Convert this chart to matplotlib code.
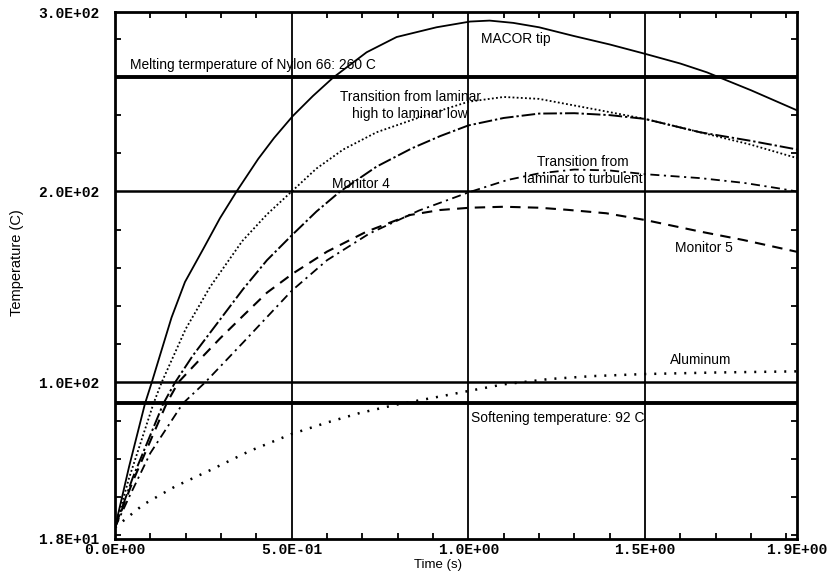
import matplotlib
matplotlib.use("Agg")
import matplotlib.pyplot as plt
from matplotlib.ticker import FixedLocator

# ---------------- data ----------------
macor_x = [0, 0.04, 0.085, 0.104, 0.127, 0.16, 0.198, 0.25, 0.297, 0.344, 0.405, 0.45, 0.503, 0.56, 0.617,
           0.712, 0.797, 0.91, 1.005, 1.06, 1.127, 1.2, 1.297, 1.4, 1.502, 1.6, 1.675, 1.8, 1.93]
macor_y = [24, 56, 89, 100, 114, 134, 152.6, 170, 186, 200, 217, 228, 239.5, 250, 259.6,
           272.9, 280.9, 286, 289, 289.5, 288.3, 286, 281.5, 277, 272, 267, 262.4, 253, 242.5]

lamhl_x = [0, 0.04, 0.109, 0.132, 0.2, 0.269, 0.36, 0.43, 0.5, 0.57, 0.646, 0.74, 0.88, 1.0, 1.1, 1.2,
           1.373, 1.5, 1.656, 1.8, 1.93]
lamhl_y = [24, 50, 89, 100, 128, 150, 174, 188, 200, 212, 222, 231, 240, 247, 249.5, 248.5,
           242.5, 238, 231, 224.5, 217.5]

mon4_x = [0, 0.05, 0.137, 0.17, 0.22, 0.269, 0.363, 0.43, 0.5, 0.57, 0.637, 0.74, 0.84, 0.92, 1.0, 1.1,
          1.2, 1.3, 1.4, 1.5, 1.656, 1.8, 1.93]
mon4_y = [24, 50, 89, 100, 114, 126, 149, 164, 177, 189.5, 200, 213, 222.6, 229, 234.6, 238.5,
          240.8, 241, 240, 238, 231, 226.5, 222]

mon5_x = [0, 0.05, 0.146, 0.179, 0.24, 0.297, 0.363, 0.43, 0.503, 0.6, 0.712, 0.835, 0.92, 1.005, 1.1,
          1.2, 1.28, 1.39, 1.502, 1.656, 1.778, 1.93]
mon5_y = [24, 48, 89, 100, 112, 123, 135, 147, 157, 168.5, 179, 187.7, 190.3, 191.5, 192,
          191.5, 190.4, 188.6, 185, 179, 174.6, 168.4]

turb_x = [0, 0.04, 0.1, 0.192, 0.255, 0.363, 0.5, 0.6, 0.72, 0.86, 1.0, 1.11, 1.2, 1.3, 1.4, 1.505,
          1.656, 1.78, 1.873, 1.93]
turb_y = [24, 40, 63, 89, 100, 121, 148, 164, 178, 190, 199.5, 206, 209.5, 211.5, 211, 209,
          207, 204.5, 201.8, 200]

alum_x = [0, 0.08, 0.17, 0.269, 0.38, 0.5, 0.6, 0.693, 0.8, 0.93, 1.0, 1.1, 1.23, 1.35, 1.5, 1.7, 1.93]
alum_y = [24, 36, 45.5, 54, 64, 73, 79, 84, 88.5, 93, 95.5, 99, 101.8, 103.3, 104.4, 105.2, 105.8]

melt_temp = 260
soft_temp = 89
grid_y = [100, 200]
grid_x = [0.5, 1.0, 1.5]

x_limits = [0.0, 1.93]
y_limits = [18, 294]
x_ticks = [0.0, 0.5, 1.0, 1.5, 1.93]
x_tick_labels = ["0.0E+00", "5.0E-01", "1.0E+00", "1.5E+00", "1.9E+00"]
y_ticks = [18, 100, 200, 294]
y_tick_labels = ["1.8E+01", "1.0E+02", "2.0E+02", "3.0E+02"]
x_minor = [0.1, 0.2, 0.3, 0.4, 0.6, 0.7, 0.8, 0.9, 1.1, 1.2, 1.3, 1.4, 1.6, 1.7, 1.8, 1.9]
y_minor = [20, 40, 60, 80, 120, 140, 160, 180, 220, 240, 260, 280]

# ---------------- figure ----------------
W, H = 840, 573
fig = plt.figure(figsize=(W / 100, H / 100), dpi=100)
ax = fig.add_axes([115 / W, 1 - 539 / H, (797 - 115) / W, (539 - 12) / H])

sans = "Liberation Sans"
mono = "Liberation Mono"

for gx in grid_x:
    ax.axvline(gx, color="black", lw=1.3, zorder=1)
for gy in grid_y:
    ax.axhline(gy, color="black", lw=1.8, zorder=1)
ax.axhline(melt_temp, color="black", lw=2.8, zorder=1)
ax.axhline(soft_temp, color="black", lw=2.8, zorder=1)

ax.plot(macor_x, macor_y, color="black", lw=1.3, ls="-", zorder=3)
ax.plot(lamhl_x, lamhl_y, color="black", lw=1.3, ls=(0, (1, 1.3)), zorder=3)
ax.plot(mon4_x, mon4_y, color="black", lw=1.4, ls=(0, (7, 1.5, 1.2, 1.5)), zorder=3)
ax.plot(mon5_x, mon5_y, color="black", lw=1.5, ls=(0, (5, 3.5)), zorder=3)
ax.plot(turb_x, turb_y, color="black", lw=1.3, ls=(0, (5, 2.5, 1.2, 2.5)), zorder=3)
ax.plot(alum_x, alum_y, color="black", lw=1.8, ls=(0, (0.8, 3.2)), zorder=3)

ax.set_xlim(*x_limits)
ax.set_ylim(*y_limits)
ax.set_xticks(x_ticks)
ax.set_xticklabels(x_tick_labels, fontfamily=mono, fontweight="bold", fontsize=10.5)
ax.set_yticks(y_ticks)
ax.set_yticklabels(y_tick_labels, fontfamily=mono, fontweight="bold", fontsize=10.5)
ax.xaxis.set_minor_locator(FixedLocator(x_minor))
ax.yaxis.set_minor_locator(FixedLocator(y_minor))
ax.tick_params(which="both", direction="in", top=True, right=True, width=1.3, color="black")
ax.tick_params(axis="y", which="major", length=0, pad=11)
ax.tick_params(axis="x", which="major", length=0, pad=3)
ax.tick_params(which="minor", length=4)
for s in ax.spines.values():
    s.set_linewidth(2.0)

fig.text(438 / W, 1 - 565 / H, "Time (s)", fontfamily=sans, fontsize=9.5,
         ha="center", va="center")
fig.text(17 / W, 1 - 263 / H, "Temperature (C)", fontfamily=sans, fontsize=10.5,
         ha="center", va="center", rotation=90)

tk = dict(fontfamily=sans, fontsize=9.9, color="black", zorder=4)
ax.text(1.135, 280, "MACOR tip", ha="center", va="center", **tk)
ax.text(0.042, 266.5, "Melting termperature of Nylon 66: 260 C", ha="left", va="center", **tk)
ax.text(0.835, 245, "Transition from laminar\nhigh to laminar low", ha="center", va="center",
        linespacing=1.25, **tk)
ax.text(0.613, 203.8, "Monitor 4", ha="left", va="center", **tk)
ax.text(1.325, 211, "Transition from\nlaminar to turbulent", ha="center", va="center",
        linespacing=1.35, **tk)
ax.text(1.585, 170.5, "Monitor 5", ha="left", va="center", **tk)
ax.text(1.658, 112, "Aluminum", ha="center", va="center", **tk)
ax.text(1.007, 81.5, "Softening temperature: 92 C", ha="left", va="center", **tk)

fig.savefig("out.png", dpi=100)
